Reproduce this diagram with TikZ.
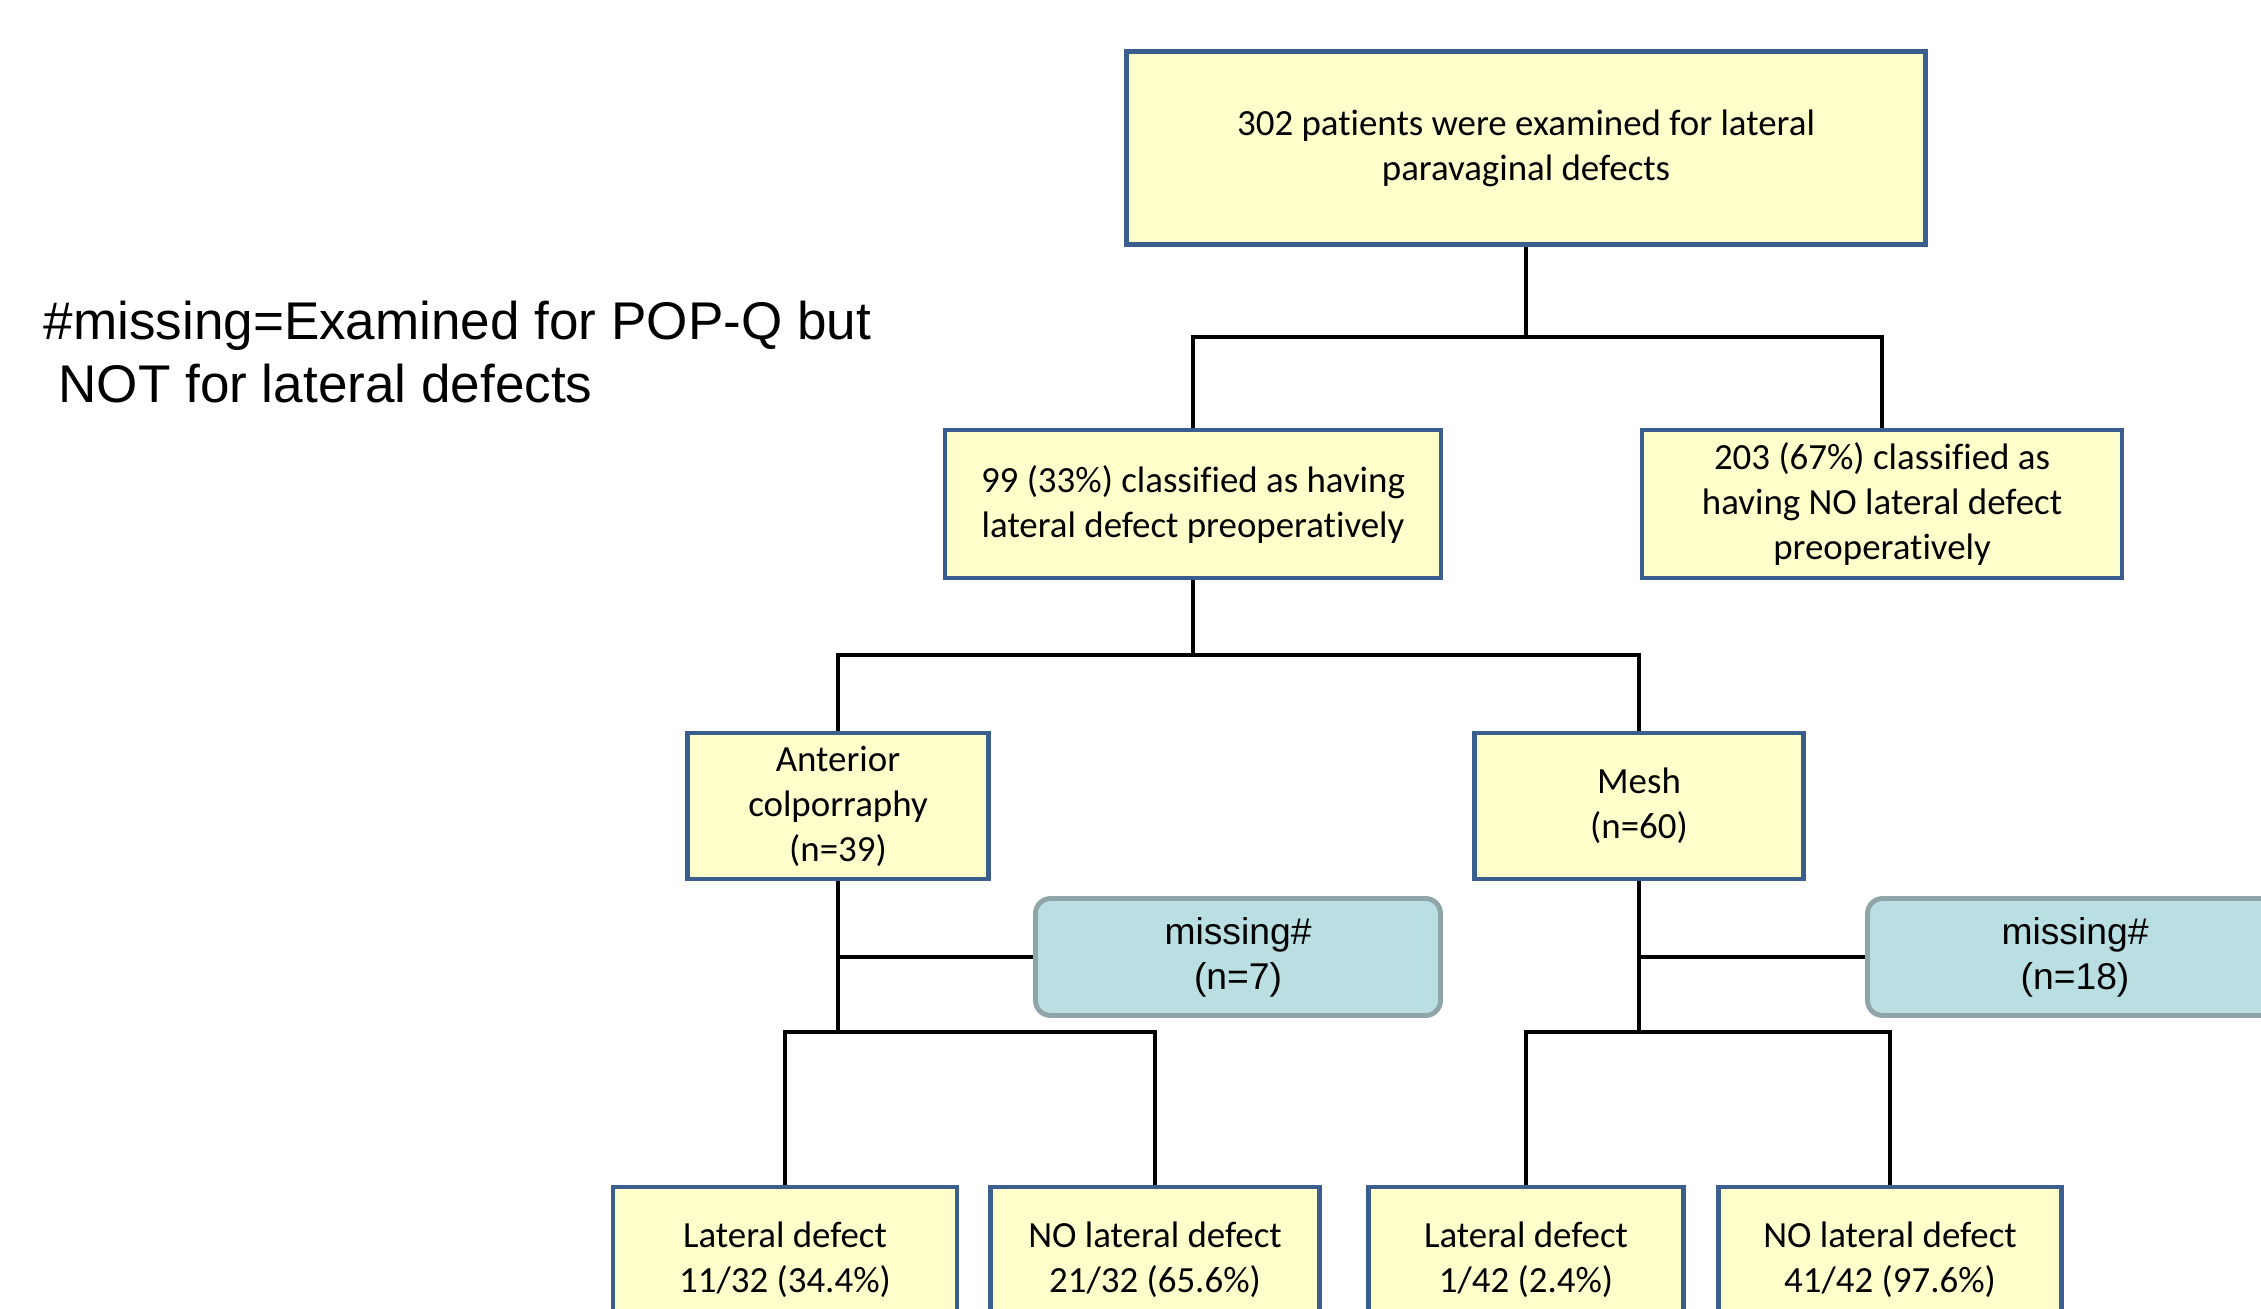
\documentclass[tikz,border=0pt]{standalone}
\usepackage{fontspec}
\setmainfont{Carlito}[Ligatures=NoCommon]
\newfontfamily\arialf{Liberation Sans}
\definecolor{boxfill}{HTML}{FFFFCC}
\definecolor{boxline}{HTML}{3A5F8F}
\definecolor{missfill}{HTML}{B9DFE3}
\definecolor{missline}{HTML}{8FA5A7}

\begin{document}
\begin{tikzpicture}[x=1cm, y=1cm, font=\fontsize{10.5}{12.8}\selectfont,
  countn/.style={rectangle, draw=boxline, fill=boxfill, line width=1.2pt, align=center, inner sep=0pt},
  leafn/.style={countn, minimum height=1.46cm},
  missn/.style={rectangle, rounded corners=1.5mm, draw=missline, fill=missfill, line width=1.4pt, align=center,
    inner sep=0pt, minimum height=1.17cm, font=\arialf\fontsize{10.6}{12.8}\selectfont},
  linkedge/.style={draw=black, line width=0.9pt},
  notetxt/.style={font=\arialf\fontsize{15.1}{17.8}\selectfont, align=left, inner sep=0pt}
]
  \clip (0,0) rectangle (22.61,-13.08);
  \node[notetxt, anchor=west] (note) at (0.43,-3.52) {\#missing=Examined for POP-Q but\\\hspace*{0.28em}NOT for lateral defects};
  \node[countn, minimum width=7.99cm, minimum height=1.93cm] (P0) at (15.26,-1.48) {302 patients were examined for lateral\\paravaginal defects};
  \node[countn, minimum width=4.96cm, minimum height=1.48cm] (L1) at (11.93,-5.04) {99 (33\%) classified as having\\lateral defect preoperatively};
  \node[countn, minimum width=4.80cm, minimum height=1.48cm] (R1) at (18.82,-5.04) {203 (67\%) classified as\\having NO lateral defect\\preoperatively};
  \node[countn, minimum width=3.01cm, minimum height=1.46cm] (AC) at (8.38,-8.06) {Anterior\\colporraphy\\(n=39)};
  \node[countn, minimum width=3.29cm, minimum height=1.46cm] (MS) at (16.39,-8.06) {Mesh\\(n=60)};
  \node[missn, minimum width=4.05cm] (M1) at (12.38,-9.57) {missing\#\\(n=7)};
  \node[missn, minimum width=4.15cm] (M2) at (20.75,-9.57) {missing\#\\(n=18)};
  \node[leafn, minimum width=3.44cm] (ACy) at (7.85,-12.60) {Lateral defect\\11/32 (34.4\%)};
  \node[leafn, minimum width=3.29cm] (ACn) at (11.55,-12.60) {NO lateral defect\\21/32 (65.6\%)};
  \node[leafn, minimum width=3.15cm] (MSy) at (15.26,-12.60) {Lateral defect\\1/42 (2.4\%)};
  \node[leafn, minimum width=3.43cm] (MSn) at (18.90,-12.60) {NO lateral defect\\41/42 (97.6\%)};
  % junctions
  \coordinate (j1) at (15.26,-3.37);  \coordinate (j2) at (11.93,-6.55);
  \coordinate (j3) at (8.38,-10.32);  \coordinate (j4) at (16.39,-10.32);
  \draw[linkedge] (P0.south) -- (j1);  \draw[linkedge] (L1.north) |- (j1) -| (R1.north);
  \draw[linkedge] (L1.south) -- (j2);  \draw[linkedge] (AC.north) |- (j2) -| (MS.north);
  \draw[linkedge] (AC.south) -- (j3);  \draw[linkedge] (M1.west) -- (M1.west -| AC.south);
  \draw[linkedge] (ACy.north) |- (j3) -| (ACn.north);
  \draw[linkedge] (MS.south) -- (j4);  \draw[linkedge] (M2.west) -- (M2.west -| MS.south);
  \draw[linkedge] (MSy.north) |- (j4) -| (MSn.north);
\end{tikzpicture}
\end{document}
